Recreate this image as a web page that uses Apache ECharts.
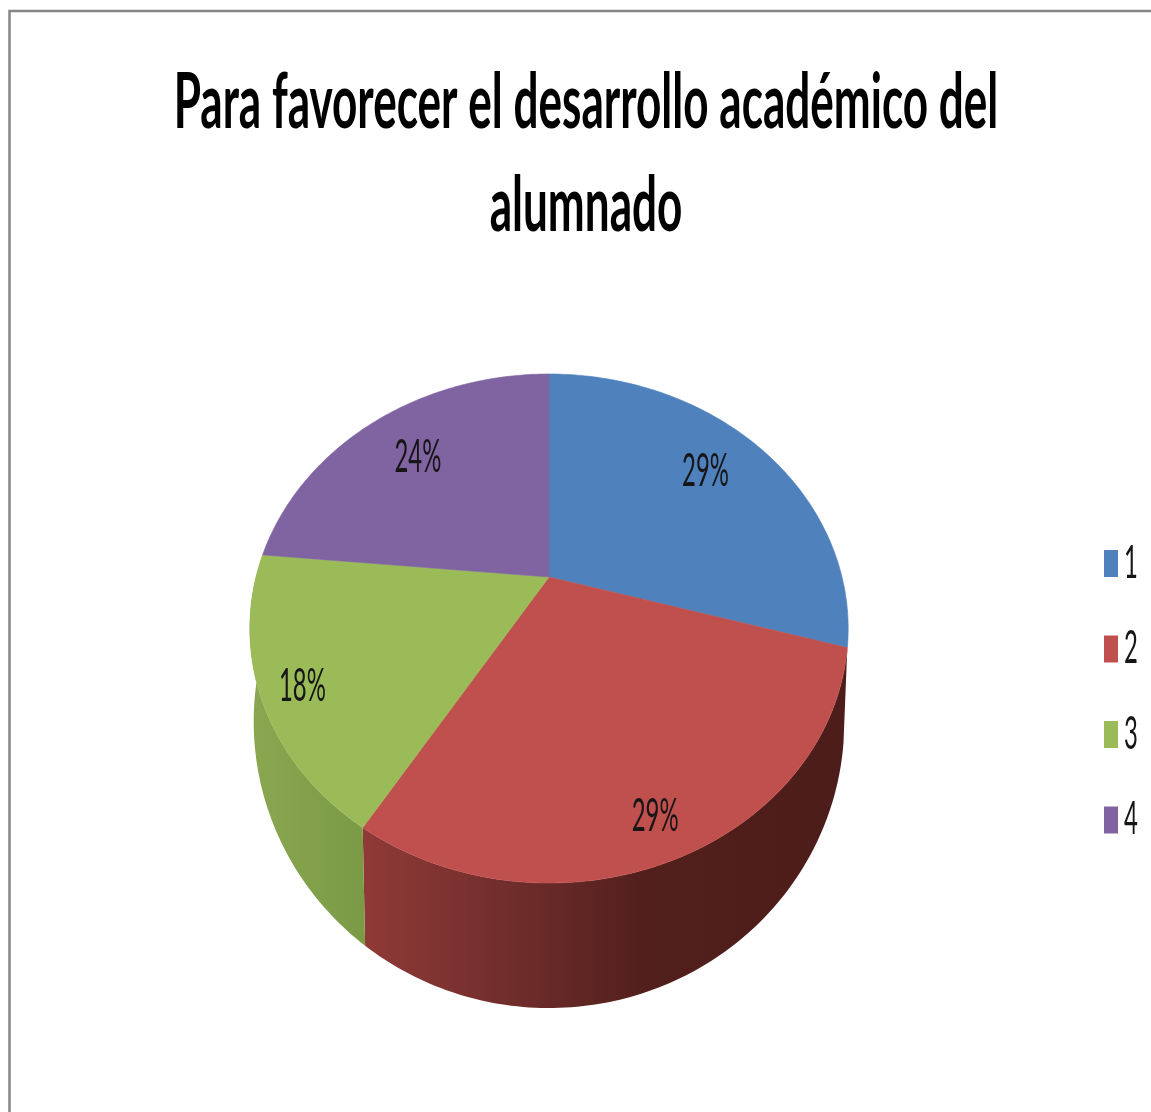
<!DOCTYPE html>
<html>
<head>
<meta charset="utf-8">
<style>
  html, body { margin: 0; padding: 0; background: #fff; }
  #main { width: 1151px; height: 1112px; }
</style>
</head>
<body>
<div id="main"></div>
<script src="https://cdn.jsdelivr.net/npm/echarts@6/dist/echarts.min.js"></script>
<script>
// data
const chartTitle = "Para favorecer el desarrollo académico del\nalumnado";
const categories = ["1", "2", "3", "4"];
const values = [5, 5, 3, 4];
const colors = ["#4f81bd", "#c0504d", "#9bbb59", "#8064a2"];

// perspective of the pie: tilted circle, apex at (cx, cy)
const cx = 549;
const cy = 577;
const spreadX = 293;
const tiltA = -127.3;
const tiltC = 0.2024;
// how far out each percent label sits, 1 = rim
const labelRadius = [0.78, 0.87, 0.87, 0.75];
const labelNudge = [[-10, -1], [-4, 2], [1, 6], [2, 2]];
// narrow look of the stretched source picture
const labelFont = "Lato";
const labelScaleX = 0.52;
const titleScaleX = 0.58;

const total = values.reduce((a, b) => a + b, 0);

function project(angle, r) {
  const u = r * Math.sin(angle);
  const v = r * Math.cos(angle);
  const d = tiltC * v + 1;
  return [cx + (spreadX * u) / d, (tiltA * v + cy) / d];
}
// lower rim of the cake
function lower(p) {
  return [cx + 0.987 * (p[0] - cx), 721 + 1.1255 * (p[1] - 628)];
}
function rimPoints(start, end) {
  const pts = [];
  const steps = Math.max(8, Math.ceil((end - start) * 60));
  for (let i = 0; i <= steps; i++) {
    pts.push(project(start + ((end - start) * i) / steps, 1));
  }
  return pts;
}

const wallFills = [
  null,
  new echarts.graphic.LinearGradient(0, 0, 1, 0, [
    { offset: 0, color: "#8f3a37" },
    { offset: 0.38, color: "#682a28" },
    { offset: 0.58, color: "#521f1c" },
    { offset: 1, color: "#4c1d1a" },
  ]),
  new echarts.graphic.LinearGradient(0, 0, 1, 0, [
    { offset: 0, color: "#8aa750" },
    { offset: 1, color: "#7b9a46" },
  ]),
  null,
];

const renderSlice = (index) => (params, api) => {
  const before = values.slice(0, index).reduce((a, b) => a + b, 0);
  const value = api.value(0);
  const start = (before / total) * Math.PI * 2;
  const end = ((before + value) / total) * Math.PI * 2;
  const mid = (start + end) / 2;
  const rim = rimPoints(start, end);
  const children = [];

  // only slices facing the viewer show a wall
  if (Math.cos(mid) < 0) {
    children.push({
      type: "polygon",
      z2: 1,
      shape: { points: rim.concat(rim.map(lower).reverse()) },
      style: { fill: wallFills[index] },
    });
  }
  children.push({
    type: "polygon",
    z2: 10,
    shape: { points: [[cx, cy]].concat(rim) },
    style: { fill: colors[index], stroke: colors[index], lineWidth: 0.6 },
  });
  const pos = project(mid, labelRadius[index]);
  children.push({
    type: "text",
    z2: 20,
    x: pos[0] + labelNudge[index][0],
    y: pos[1] + labelNudge[index][1],
    scaleX: labelScaleX,
    style: {
      text: Math.round((value / total) * 100) + "%",
      fontFamily: labelFont,
      fontSize: 46,
      fill: "#161616",
      align: "center",
      verticalAlign: "middle",
    },
  });
  return { type: "group", children };
};

const mChart = echarts.init(document.getElementById("main"));
mChart.setOption({
  backgroundColor: "#fff",
  animation: false,
  legend: {
    orient: "vertical",
    left: 1104,
    top: 550,
    icon: "rect",
    itemWidth: 14,
    itemHeight: 27,
    itemGap: 58.5,
    selectedMode: false,
    padding: 0,
    formatter: () => "",
    data: categories,
  },
  graphic: [
    // chart frame, only top and left fall inside the picture
    {
      type: "polyline",
      shape: { points: [[9.5, 1112], [9.5, 11], [1151, 11]] },
      style: { stroke: "#868686", lineWidth: 2.5, fill: "none" },
    },
    {
      type: "text",
      x: 586,
      y: 155,
      scaleX: titleScaleX,
      style: {
        text: chartTitle,
        fontFamily: "Lato",
        fontSize: 76,
        fontWeight: "bold",
        lineHeight: 103,
        fill: "#000",
        align: "center",
        verticalAlign: "middle",
      },
    },
  ].concat(
    categories.map((name, i) => ({
      type: "text",
      x: 1131,
      y: 563 + i * 85.5,
      scaleX: labelScaleX,
      style: {
        text: name,
        fontFamily: labelFont,
        fontSize: 46,
        fill: "#161616",
        align: "center",
        verticalAlign: "middle",
      },
    }))
  ),
  series: categories.map((name, i) => ({
    type: "custom",
    name: name,
    coordinateSystem: "none",
    itemStyle: { color: colors[i] },
    renderItem: renderSlice(i),
    data: [[values[i]]],
  })),
});
</script>
</body>
</html>
